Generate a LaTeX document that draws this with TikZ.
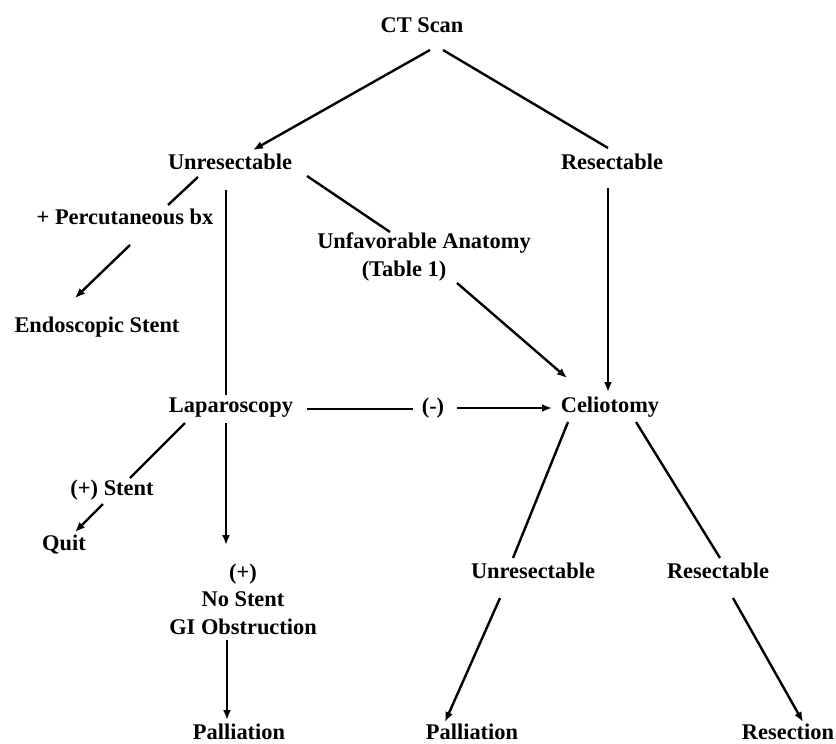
\documentclass[tikz,border=0pt]{standalone}
\usepackage{fontspec}
\setmainfont{Liberation Serif}
\usetikzlibrary{calc,arrows.meta}
\begin{document}
\begin{tikzpicture}[x=0.5pt,y=-0.5pt,
  lbl/.style={inner sep=0pt,font=\fontsize{11.2pt}{13.8pt}\selectfont\bfseries,align=center},
  ln/.style={line width=1.2pt},
  arr/.style={line width=1.2pt,-{Latex[length=5pt,width=4pt]}}]
\useasboundingbox (0,0) rectangle (836,744);
\node[lbl] (ct) at (422,25) {CT Scan};
\node[lbl] (unr) at (230,162) {Unresectable};
\node[lbl] (res) at (612,162) {Resectable};
\node[lbl] (perc) at (125,217) {+ Percutaneous bx};
\node[lbl] (endo) at (97,327) {Endoscopic Stent};
\node[lbl] (unf) at (424,243) {Unfavorable Anatomy};
\node[lbl] (tab) at (404,271) {(Table 1)};
\node[lbl] (lap) at (231,408) {Laparoscopy};
\node[lbl] (neg) at (433,408) {(-)};
\node[lbl] (cel) at (610,407) {Celiotomy};
\node[lbl] (pst) at (112,490) {(+) Stent};
\node[lbl] (quit) at (64,545) {Quit};
\node[lbl] (nost) at (243,599) {(+)\\No Stent\\GI Obstruction};
\node[lbl] (pal1) at (239,732) {Palliation};
\node[lbl] (unr2) at (533,571) {Unresectable};
\node[lbl] (res2) at (718,571) {Resectable};
\node[lbl] (pal2) at (472,732) {Palliation};
\node[lbl] (resec) at (788,732) {Resection};

\draw[arr] ($(ct)+(8,25)$) -- ($(unr)+(23,-12)$);
\draw[ln] ($(ct)+(21,25)$) -- ($(res)+(-4,-14)$);
\draw[ln] ($(unr)+(-32,15)$) -- ($(perc)+(43,-12)$);
\draw[ln] ($(unr)+(-4,28)$) -- ($(lap)+(-5,-13)$);
\draw[ln] ($(unr)+(77,14)$) -- ($(unf)+(-34,-11)$);
\draw[arr] ($(tab)+(53,12)$) -- ($(cel)+(-43,-29)$);
\draw[arr] ($(res)+(-4,26)$) -- ($(cel)+(-2,-15)$);
\draw[arr] ($(perc)+(5,28)$) -- ($(endo)+(-22,-29)$);
\draw[ln] ($(lap)+(76,1)$) -- ($(neg)+(-20,1)$);
\draw[arr] ($(neg)+(24,0)$) -- ($(cel)+(-58,1)$);
\draw[ln] ($(lap)+(-46,15)$) -- ($(pst)+(18,-12)$);
\draw[arr] ($(pst)+(-9,14)$) -- ($(quit)+(11,-13)$);
\draw[arr] ($(lap)+(-5,15)$) -- ($(nost)+(-17,-54)$);
\draw[arr] ($(nost)+(-16,41)$) -- ($(pal1)+(-12,-12)$);
\draw[ln] ($(cel)+(-42,15)$) -- ($(unr2)+(-20,-13)$);
\draw[ln] ($(cel)+(26,15)$) -- ($(res2)+(2,-13)$);
\draw[arr] ($(unr2)+(-33,27)$) -- ($(pal2)+(-27,-10)$);
\draw[arr] ($(res2)+(15,27)$) -- ($(resec)+(15,-10)$);
\end{tikzpicture}
\end{document}
